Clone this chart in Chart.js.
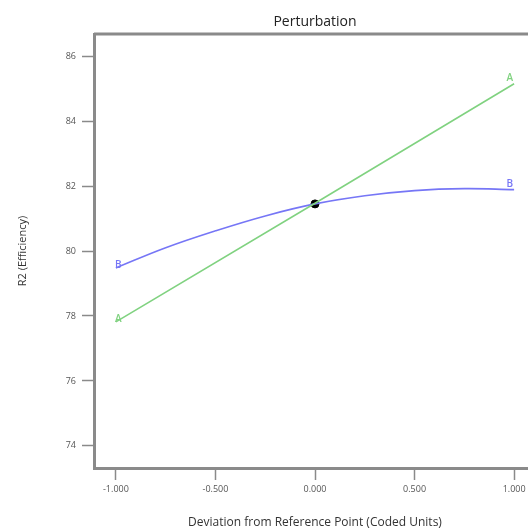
<!DOCTYPE html>
<html>
<head>
<meta charset="utf-8">
<script src="https://cdn.jsdelivr.net/npm/chart.js@4"></script>
<style>
  html, body { margin: 0; padding: 0; background: #fff; overflow: hidden; }
  #wrap { width: 541px; height: 530px; }
</style>
</head>
<body>
<div id="wrap"><canvas id="chartPerturbation"></canvas></div>
<script>
// Valeurs
const xTicks = [-1, -0.5, 0, 0.5, 1];
const yTicks = [74, 76, 78, 80, 82, 84, 86];

const xA = [-1, 0, 1];
const valeursA = [77.82, 81.47, 85.15];

const xB = [-1, -0.75, -0.5, -0.25, 0, 0.25, 0.5, 0.75, 1];
const valeursB = [79.48, 80.1, 80.62, 81.08, 81.45, 81.7, 81.86, 81.92, 81.89];

const pointRef = [{ x: 0, y: 81.45 }];

const vertA = 'rgb(128, 210, 128)';
const bleuB = 'rgb(118, 118, 246)';

// Étiquettes "A" / "B" aux extrémités des courbes + cadre du graphique
const etiquettes = {
    id: 'etiquettes',
    afterDatasetsDraw(chart) {
        const ctx = chart.ctx;
        ctx.save();
        ctx.font = '600 10px "Open Sans", sans-serif';
        ctx.textBaseline = 'alphabetic';
        [0, 1].forEach(i => {
            const ds = chart.data.datasets[i];
            const pts = chart.getDatasetMeta(i).data;
            const debut = pts[0];
            const fin = pts[pts.length - 1];
            ctx.fillStyle = ds.borderColor;
            ctx.textAlign = 'left';
            ctx.fillText(ds.label, debut.x - 1, debut.y);
            ctx.textAlign = 'right';
            ctx.fillText(ds.label, fin.x - 1, fin.y - 3);
        });
        const a = chart.chartArea;
        ctx.strokeStyle = '#8a8a8a';
        ctx.lineWidth = 3;
        ctx.beginPath();
        ctx.moveTo(a.left, a.top);
        ctx.lineTo(a.right, a.top);
        ctx.stroke();
        ctx.restore();
    }
};

new Chart(document.getElementById('chartPerturbation'), {
    type: 'line',
    data: {
        datasets: [{
            label: 'A',
            data: xA.map((x, i) => ({ x: x, y: valeursA[i] })),
            borderColor: vertA,
            borderWidth: 1.6,
            pointRadius: 0,
            tension: 0
        }, {
            label: 'B',
            data: xB.map((x, i) => ({ x: x, y: valeursB[i] })),
            borderColor: bleuB,
            borderWidth: 1.6,
            pointRadius: 0,
            tension: 0.4
        }, {
            label: 'ref',
            data: pointRef,
            showLine: false,
            pointRadius: 4,
            pointBackgroundColor: '#000',
            pointBorderColor: '#000'
        }]
    },
    options: {
        responsive: true,
        maintainAspectRatio: false,
        animation: false,
        layout: { padding: 0 },
        plugins: {
            legend: { display: false },
            tooltip: { enabled: false },
            title: {
                display: true,
                text: 'Perturbation',
                fullSize: false,
                color: '#222',
                font: { family: '"Open Sans", sans-serif', size: 14, weight: 'normal', lineHeight: 1.2 },
                padding: { top: 14, bottom: 3.2 }
            }
        },
        scales: {
            x: {
                type: 'linear',
                min: -1.11,
                max: 1.11,
                afterFit(scale) { scale.height = 62; },
                afterBuildTicks(scale) { scale.ticks = xTicks.map(v => ({ value: v })); },
                border: { display: true, color: '#8a8a8a', width: 3 },
                grid: { drawOnChartArea: false, tickLength: 12, color: '#8a8a8a', tickWidth: 1.5 },
                ticks: {
                    color: '#555',
                    padding: 4,
                    maxRotation: 0,
                    font: { family: '"Open Sans", sans-serif', size: 9 },
                    callback: v => v.toFixed(3)
                },
                title: {
                    display: true,
                    text: 'Deviation from Reference Point (Coded Units)',
                    color: '#333',
                    font: { family: '"Open Sans", sans-serif', size: 12 },
                    padding: { top: 0, bottom: 0 }
                }
            },
            y: {
                type: 'linear',
                min: 73.32,
                max: 86.68,
                afterFit(scale) { scale.width = 94; },
                afterBuildTicks(scale) { scale.ticks = yTicks.map(v => ({ value: v })); },
                border: { display: true, color: '#8a8a8a', width: 3 },
                grid: { drawOnChartArea: false, tickLength: 12, color: '#8a8a8a', tickWidth: 1.5 },
                ticks: {
                    color: '#555',
                    padding: 6,
                    font: { family: '"Open Sans", sans-serif', size: 9 }
                },
                title: {
                    display: true,
                    text: 'R2 (Efficiency)',
                    color: '#333',
                    font: { family: '"Open Sans", sans-serif', size: 11 },
                    padding: { top: 16, bottom: 0 }
                }
            }
        }
    },
    plugins: [etiquettes]
});
</script>
</body>
</html>
